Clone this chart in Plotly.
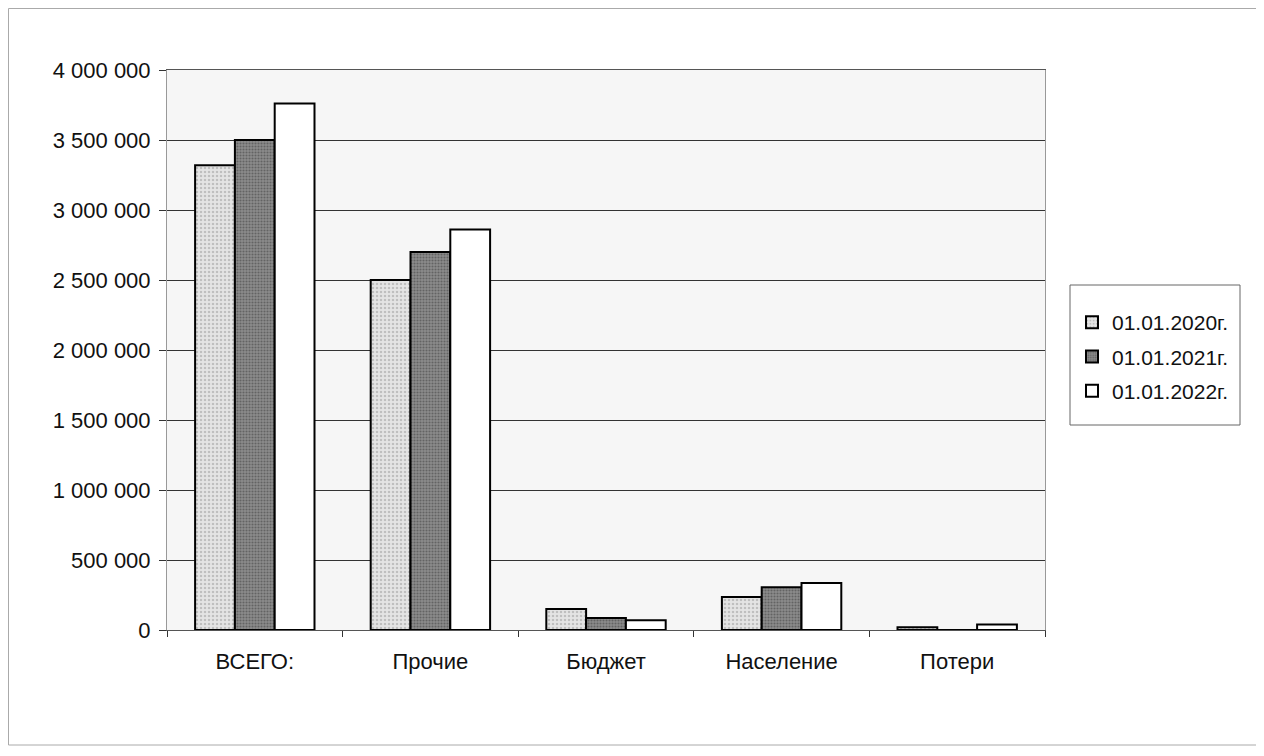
import plotly.graph_objects as go

categories = ["ВСЕГО:", "Прочие", "Бюджет", "Население", "Потери"]
series_names = ["01.01.2020г.", "01.01.2021г.", "01.01.2022г."]
v2020 = [3320000, 2500000, 150000, 235000, 20000]
v2021 = [3500000, 2700000, 85000, 305000, -5000]
v2022 = [3760000, 2860000, 70000, 335000, 40000]
tick_vals = [0, 500000, 1000000, 1500000, 2000000, 2500000, 3000000, 3500000, 4000000]
tick_text = ["0", "500 000", "1 000 000", "1 500 000", "2 000 000", "2 500 000", "3 000 000", "3 500 000", "4 000 000"]

styles = [
    dict(color="#d6d6d6", pattern=dict(shape=".", bgcolor="#e4e4e4", fgcolor="#9a9a9a", size=4, solidity=0.3)),
    dict(color="#7c7c7c", pattern=dict(shape=".", bgcolor="#8c8c8c", fgcolor="#3a3a3a", size=3, solidity=0.4)),
    dict(color="#ffffff"),
]

fig = go.Figure()
for i, (name, vals, st) in enumerate(zip(series_names, [v2020, v2021, v2022], styles)):
    fig.add_trace(go.Bar(
        x=categories, y=vals, name=name, legendgroup=f"g{i}",
        marker=dict(line=dict(color="#000000", width=2), **st),
    ))

W, H = 1264, 756
L, R, T, B = 159, 1037, 62, 622
pw, ph = R - L, B - T

fig.update_layout(
    width=W, height=H,
    margin=dict(l=L, r=W - R, t=T, b=H - B),
    paper_bgcolor="#ffffff", plot_bgcolor="#f6f6f6",
    barmode="group", bargap=0.32, bargroupgap=0,
    font=dict(family="Liberation Sans, Arial, sans-serif", size=22, color="#111111"),
    legend=dict(
        x=(1064 - L) / pw, y=(B - 294) / ph, xanchor="left", yanchor="top",
        borderwidth=0, bgcolor="rgba(255,255,255,0)",
        font=dict(size=21), traceorder="grouped", tracegroupgap=4,
        itemwidth=30,
    ),
    showlegend=True,
)
fig.update_xaxes(
    showline=True, linecolor="#555555", linewidth=1, mirror=True,
    ticks="outside", ticklen=6, tickcolor="#333333", tickson="boundaries",
    showgrid=False, tickfont=dict(size=22), ticklabelstandoff=12,
)
fig.update_yaxes(
    range=[0, 4000000], tickvals=tick_vals, ticktext=tick_text,
    showline=True, linecolor="#999999", linewidth=1, mirror=True,
    ticks="outside", ticklen=7, tickcolor="#333333", ticklabelstandoff=4,
    showgrid=True, gridcolor="#333333", gridwidth=1, zeroline=True,
    zerolinecolor="#222222", zerolinewidth=1, tickfont=dict(size=22),
)
# legend frame
fig.add_shape(type="rect", xref="paper", yref="paper",
              x0=(1062 - L) / pw, x1=(1232 - L) / pw,
              y0=(B - 417) / ph, y1=(B - 277) / ph,
              line=dict(color="#666666", width=1), fillcolor="#ffffff", layer="below")
# outer chart frame (left, top, bottom edges)
fr = dict(color="#aaaaaa", width=1)
fx0, fx1 = (0.5 - L) / pw, (W - L) / pw
fy0, fy1 = (B - 737) / ph, (B - 0.5) / ph
fig.add_shape(type="line", xref="paper", yref="paper", x0=fx0, x1=fx0, y0=fy0, y1=fy1, line=fr, layer="below")
fig.add_shape(type="line", xref="paper", yref="paper", x0=fx0, x1=fx1, y0=fy1, y1=fy1, line=fr, layer="below")
fig.add_shape(type="line", xref="paper", yref="paper", x0=fx0, x1=fx1, y0=fy0, y1=fy0, line=fr, layer="below")

fig.write_html("out.html")
